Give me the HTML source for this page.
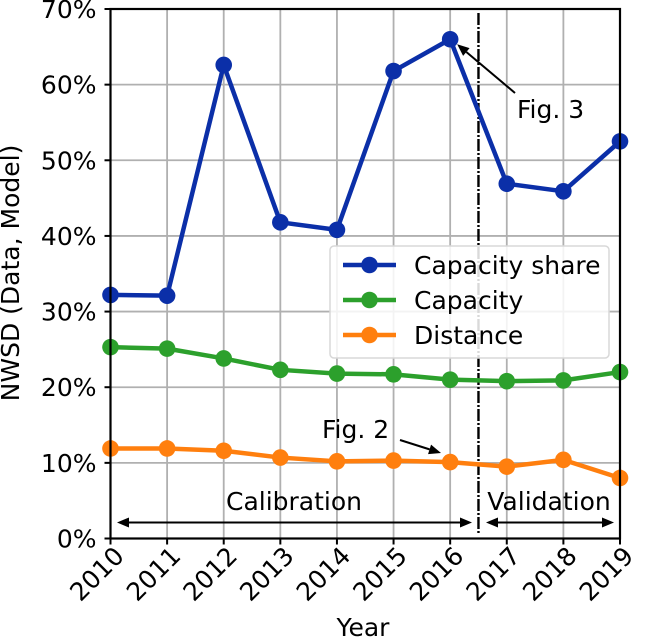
<!DOCTYPE html>
<html><head><meta charset="utf-8"><style>
body{margin:0;background:#fff}
svg{display:block;font-family:"DejaVu Sans","Liberation Sans",sans-serif}
</style></head><body>
<svg id="chart" width="646" height="638" viewBox="0 0 646 638">
<g id="grid"></g>
<g id="series"></g>
<g id="axes"></g>
</svg>
<script>
const years = [2010,2011,2012,2013,2014,2015,2016,2017,2018,2019];
const capacityShare = [32.2,32.1,62.6,41.8,40.8,61.8,66.0,46.9,45.9,52.5];
const capacity = [25.3,25.1,23.8,22.3,21.8,21.7,21.0,20.8,20.9,22.0];
const distance = [11.9,11.9,11.6,10.7,10.2,10.3,10.1,9.5,10.4,8.0];
const yTicks = [0,10,20,30,40,50,60,70];
const seriesNames = ["Capacity share","Capacity","Distance"];
const colors = ["#0b2fa8","#2ca02c","#ff7f0e"];
const splitYear = 2016.5;

const L=110.5,R=620,T=9,B=538.5;
const FS=25;
const NS="http://www.w3.org/2000/svg";
const xs=v=>L+(v-2010)/(2019-2010)*(R-L);
const ys=v=>B-v/70*(B-T);
function mk(tag,attrs,parent,text){const e=document.createElementNS(NS,tag);for(const k in attrs)e.setAttribute(k,attrs[k]);if(text!==undefined)e.textContent=text;parent.appendChild(e);return e;}
const svg=document.getElementById('chart'),grid=document.getElementById('grid'),ser=document.getElementById('series'),ax=document.getElementById('axes');
years.forEach(y=>{const l=mk('line',{x1:xs(y),x2:xs(y),y1:T,y2:B,stroke:'#b0b0b0','stroke-width':1.8},grid);

});
yTicks.forEach(v=>{const l=mk('line',{x1:L,x2:R,y1:ys(v),y2:ys(v),stroke:'#b0b0b0','stroke-width':1.8},grid);

});
const sp=mk('line',{x1:xs(splitYear),x2:xs(splitYear),y1:13,y2:534,stroke:'#000','stroke-width':2.4,'stroke-dasharray':'12,2,2,2'},ser);


[capacityShare,capacity,distance].forEach((d,i)=>{
 const g=mk('g',{},ser);
 
 
 mk('polyline',{points:d.map((v,j)=>xs(years[j])+','+ys(v)).join(' '),fill:'none',stroke:colors[i],'stroke-width':4.5,'stroke-linejoin':'round'},g);
 d.forEach((v,j)=>{const c=mk('circle',{cx:xs(years[j]),cy:ys(v),r:8.3,fill:colors[i]},g);
 
 });
});
mk('rect',{x:L,y:T,width:R-L,height:B-T,fill:'none',stroke:'#000','stroke-width':2.2},ax);
yTicks.forEach(v=>{mk('line',{x1:L-6,x2:L,y1:ys(v),y2:ys(v),stroke:'#000','stroke-width':2},ax);
 const t=mk('text',{x:L-14,y:ys(v)+9,'text-anchor':'end','font-size':FS},ax,v+'%');
 
 });
years.forEach(y=>{mk('line',{x1:xs(y),x2:xs(y),y1:B,y2:B+6,stroke:'#000','stroke-width':2},ax);
 const t=mk('text',{x:0,y:0,'text-anchor':'end','font-size':FS,transform:`translate(${xs(y)+15},${B+19}) rotate(-45)`},ax,y);
 
 });
const xt=mk('text',{x:363,y:636,'text-anchor':'middle','font-size':FS},ax,'Year');


const yt=mk('text',{x:0,y:0,'text-anchor':'middle','font-size':FS,transform:'translate(19,273) rotate(-90)'},ax,'NWSD (Data, Model)');


const lg=mk('g',{},ax);


mk('rect',{x:330,y:246,width:279,height:112,rx:4,fill:'#fff','fill-opacity':0.85,stroke:'#d8d8d8','stroke-width':1.5},lg);
seriesNames.forEach((n,i)=>{const y=265+i*35;
 mk('line',{x1:343,x2:396,y1:y,y2:y,stroke:colors[i],'stroke-width':4.5},lg);
 mk('circle',{cx:369.5,cy:y,r:8.3,fill:colors[i]},lg);
 const t=mk('text',{x:414,y:y+9,'font-size':FS},lg,n);
 
 });
function arrow(x1,y1,x2,y2,name){const g=mk('g',{},ax);
 
 
 const a=Math.atan2(y2-y1,x2-x1),h=12,w=5;
 const bx=x2-h*Math.cos(a),by=y2-h*Math.sin(a);
 mk('line',{x1,y1,x2:bx,y2:by,stroke:'#000','stroke-width':2},g);
 mk('polygon',{points:`${x2},${y2} ${bx-w*Math.sin(a)},${by+w*Math.cos(a)} ${bx+w*Math.sin(a)},${by-w*Math.cos(a)}`,fill:'#000'},g);return g;}
arrow(515,93,xs(2016)+7,ys(66)+5,'fig3-arrow');
arrow(400,440,441,453,'fig2-arrow');
const f3=mk('text',{x:517,y:118,'font-size':FS},ax,'Fig. 3');


const f2=mk('text',{x:322,y:438,'font-size':FS},ax,'Fig. 2');


arrow(300,522.5,117,522.5,'calibration-arrow-left');arrow(290,522.5,472,522.5,'calibration-arrow-right');
arrow(560,522.5,486,522.5,'validation-arrow-left');arrow(550,522.5,614,522.5,'validation-arrow-right');
const ct=mk('text',{x:294,y:510,'text-anchor':'middle','font-size':FS},ax,'Calibration');


const vt=mk('text',{x:549,y:510,'text-anchor':'middle','font-size':FS},ax,'Validation');


</script>
</body></html>
